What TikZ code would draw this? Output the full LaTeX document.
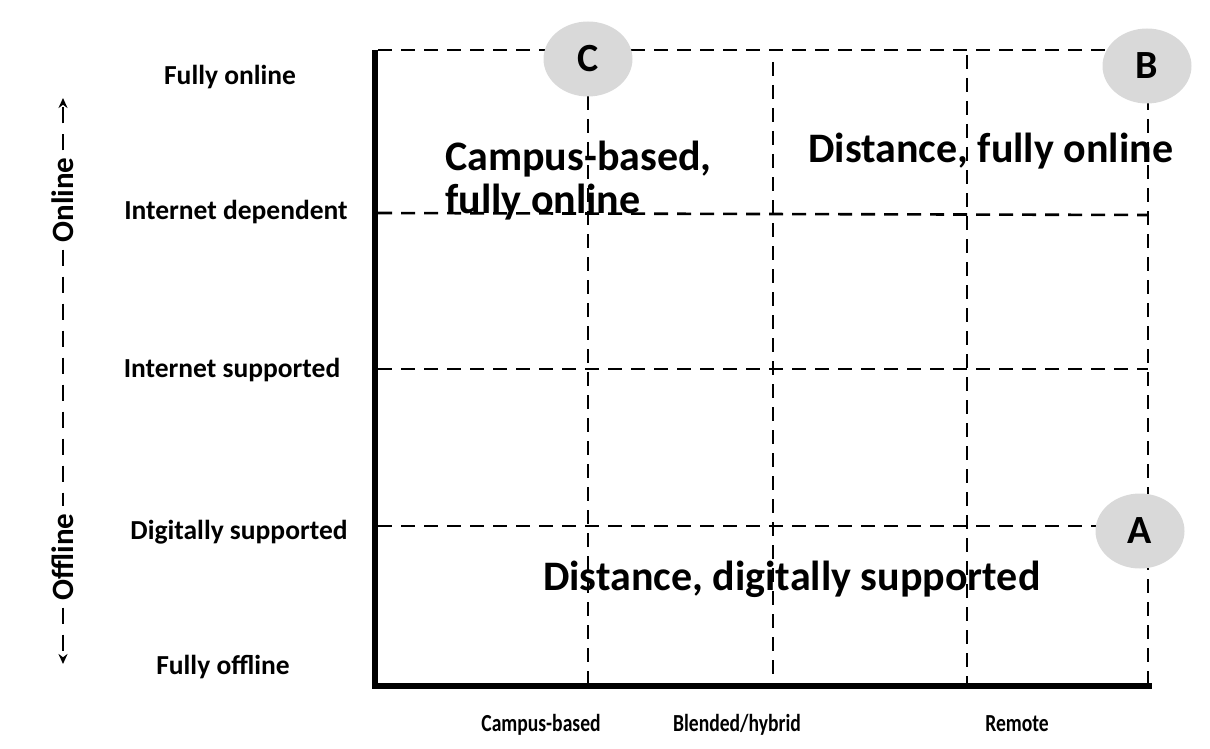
\documentclass[tikz,border=0pt]{standalone}
\usepackage{fontspec}
\usepackage{graphicx}
\setmainfont{Carlito}
\usetikzlibrary{arrows.meta,shapes.geometric}
\definecolor{circgray}{HTML}{D9D9D9}
\newcommand{\condensed}[1]{\scalebox{0.8}[1]{#1}}
\tikzset{
  grid/.style={line width=2.6pt, dash pattern=on 14pt off 9pt},
  axisline/.style={line width=6pt, line join=miter},
  leftaxis/.style={line width=2.8pt, dash pattern=on 16pt off 11pt},
  ylab/.style={font=\bfseries\fontsize{27.5}{32}\selectfont, inner sep=0pt},
  xlab/.style={font=\bfseries\fontsize{24.5}{28}\selectfont, inner sep=0pt, anchor=base},
  axtitle/.style={font=\bfseries\fontsize{31}{36}\selectfont, inner sep=7pt},
  bigtext/.style={font=\bfseries\fontsize{42}{43}\selectfont, inner sep=0pt},
  badge/.style={ellipse, fill=circgray, minimum width=89pt, minimum height=75pt, inner sep=0pt, font=\bfseries\fontsize{40}{44}\selectfont},
}
\begin{document}
\begin{tikzpicture}[x=1pt,y=-1pt]
\useasboundingbox (0,0) rectangle (1210,749);
% grid corner coordinates
\coordinate (h1a) at (378,50);  \coordinate (h1b) at (1148,50);
\coordinate (h2a) at (378,213); \coordinate (h2b) at (1148,215);
\coordinate (h3a) at (378,369); \coordinate (h3b) at (1148,369);
\coordinate (h4a) at (378,526); \coordinate (h4b) at (1148,526);
\coordinate (v1a) at (588,50);  \coordinate (v1b) at (588,684);
\coordinate (v2a) at (773,62);  \coordinate (v2b) at (773,684);
\coordinate (v3a) at (967,55);  \coordinate (v3b) at (967,684);
\coordinate (v4a) at (1148,50); \coordinate (v4b) at (1148,684);
\draw[grid] (h1a) -- (h1b);
\draw[grid] (h2a) -- (h2b);
\draw[grid] (h3a) -- (h3b);
\draw[grid] (h4a) -- (h4b);
\draw[grid] (v1a) -- (v1b);
\draw[grid] (v2a) -- (v2b);
\draw[grid] (v3a) -- (v3b);
\draw[grid] (v4a) -- (v4b);
% axes
\coordinate (o) at (375,686);
\coordinate (ytop) at (375,50);
\coordinate (xend) at (1152,686);
\draw[axisline] (ytop) -- (o) -- (xend);
% badges
\node[badge] (C) at (588,59) {C};
\node[badge] (B) at (1147,66) {B};
\node[badge] (A) at (1140,531) {A};
% big texts
\node[bigtext, anchor=base west, align=left] (cf) at (445,213) {Campus-based,\\fully online};
\node[bigtext, anchor=base west] (df) at (808,162) {Distance, fully online};
\node[bigtext, anchor=base west] (dd) at (543,590) {Distance, digitally supported};
% y labels
\node[ylab] (l1) at (230,77) {Fully online};
\node[ylab] (l2) at (236,212) {Internet dependent};
\node[ylab] (l3) at (232,370) {Internet supported};
\node[ylab] (l4) at (239,532) {Digitally supported};
\node[ylab] (l5) at (223,667) {Fully offline};
% x labels
\node[xlab] (x1) at (541,731) {\condensed{Campus-based}};
\node[xlab] (x2) at (737,731) {\condensed{Blended/hybrid}};
\node[xlab] (x3) at (1017,731) {\condensed{Remote}};
% left axis
\node[axtitle, rotate=90] (on) at (63,200) {Online};
\node[axtitle, rotate=90] (off) at (63,557) {Offline};
\coordinate (tup) at (63,98);
\coordinate (tdn) at (63,664);
\draw[leftaxis, -{Stealth[length=10pt,width=9pt]}] (on.east) -- (tup);
\draw[leftaxis] (on.west) -- (off.east);
\draw[leftaxis, -{Stealth[length=10pt,width=9pt]}] (off.west) -- (tdn);
\end{tikzpicture}
\end{document}
